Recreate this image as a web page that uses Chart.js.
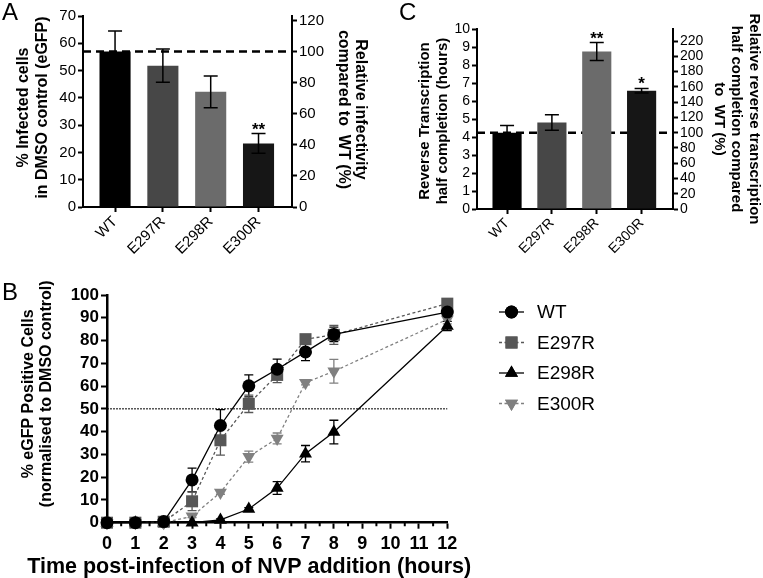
<!DOCTYPE html>
<html>
<head>
<meta charset="utf-8">
<script src="https://cdn.jsdelivr.net/npm/chart.js@4.4.1/dist/chart.umd.min.js"></script>
<style>
  body { margin: 0; background: #fff; width: 763px; height: 578px; position: relative; overflow: hidden; font-family: 'Liberation Sans', Arial, sans-serif; }
  .box { position: absolute; }
  .tag { position: absolute; font-size: 24px; line-height: 24px; color: #000; }
</style>
</head>
<body>
<div class="box" style="left:0;top:0;width:380px;height:280px"><canvas id="chartA"></canvas></div>
<div class="box" style="left:380px;top:0;width:383px;height:280px"><canvas id="chartC"></canvas></div>
<div class="box" style="left:0;top:280px;width:763px;height:298px"><canvas id="chartB"></canvas></div>
<div class="tag" style="left:2px;top:0px">A</div>
<div class="tag" style="left:399px;top:0px">C</div>
<div class="tag" style="left:2px;top:280px">B</div>
<script>
// panel A / C categories
var mutants = ['WT', 'E297R', 'E298R', 'E300R'];

// A: % infected cells (eGFP) in DMSO control
var infectedCells = [57, 51.8, 42.2, 23.3];
var infectedErr = [7.5, 6.1, 5.8, 3.6];
var infectedStars = ['', '', '', '**'];
var infectedTicks = [0, 10, 20, 30, 40, 50, 60, 70];
var infectedRelTicks = [0, 20, 40, 60, 80, 100, 120];

// C: reverse transcription half completion (hours)
var rtHalf = [4.24, 4.81, 8.75, 6.57];
var rtHalfErr = [0.4, 0.43, 0.5, 0.13];
var rtStars = ['', '', '**', '*'];
var rtTicks = [0, 1, 2, 3, 4, 5, 6, 7, 8, 9, 10];
var rtRelTicks = [0, 20, 40, 60, 80, 100, 120, 140, 160, 180, 200, 220];

// B: time course
var timeHours = [0, 1, 2, 3, 4, 5, 6, 7, 8, 12];
var wtPos = [0, 0, 0.5, 18.8, 42.7, 60.1, 67.4, 75, 82.7, 92.5];
var wtErr = [0, 0, 0, 5.2, 7, 4.8, 4.4, 3.8, 3.2, 2.2];
var e297Pos = [0, 0, 0.4, 9.4, 36.2, 52.2, 64.9, 80.6, 82.5, 96.2];
var e297Err = [0, 0, 0, 4.1, 6.5, 3.8, 3.4, 1, 4.2, 1.2];
var e298Pos = [0, 0, 0, 0, 1.2, 6, 15.2, 30.3, 39.8, 86.4];
var e298Err = [0, 0, 0, 0, 0.5, 0.6, 2.8, 3.6, 5.2, 2];
var e300Pos = [0, 0, 0, 2.8, 13.3, 29, 37, 61.5, 66.5, 89.3];
var e300Err = [0, 0, 0, 0.6, 0.8, 2.4, 2.4, 1, 5.2, 2];
var timeTicks = [0, 1, 2, 3, 4, 5, 6, 7, 8, 9, 10, 11, 12];
var posTicks = [0, 10, 20, 30, 40, 50, 60, 70, 80, 90, 100];

var barColors = ['#000000', '#474747', '#6b6b6b', '#161616'];
var FONT = "'Liberation Sans', Arial, sans-serif";

Chart.defaults.font.family = FONT;
Chart.defaults.color = '#000';

function fixTicks(list) {
  return function(scale) { scale.ticks = list.map(function(v) { return { value: v }; }); };
}

// error bars drawn from each dataset's "errors" array
function errorBars(capWidth, lineWidth, under) {
  function draw(chart) {
    var ctx = chart.ctx;
    chart.data.datasets.forEach(function(ds, i) {
      if (!ds.errors) return;
      var meta = chart.getDatasetMeta(i);
      var ys = chart.scales[meta.yAxisID];
      ctx.save();
      ctx.strokeStyle = ds.errorColor || '#000';
      ctx.lineWidth = lineWidth;
      meta.data.forEach(function(el, j) {
        var e = ds.errors[j];
        if (!e) return;
        var v = ds.data[j].y;
        var hi = ys.getPixelForValue(v + e), lo = ys.getPixelForValue(v - e);
        var w = capWidth / 2;
        ctx.beginPath();
        ctx.moveTo(el.x, hi); ctx.lineTo(el.x, lo);
        ctx.moveTo(el.x - w, hi); ctx.lineTo(el.x + w, hi);
        ctx.moveTo(el.x - w, lo); ctx.lineTo(el.x + w, lo);
        ctx.stroke();
      });
      ctx.restore();
    });
  }
  return {
    id: 'errorBars',
    beforeDatasetsDraw: function(chart) { if (under) draw(chart); },
    afterDatasetsDraw: function(chart) { if (!under) draw(chart); }
  };
}

function refLine(axisId, value, width, dash) {
  return {
    id: 'refLine',
    beforeDatasetsDraw: function(chart) {
      var a = chart.chartArea, ctx = chart.ctx;
      var y = chart.scales[axisId].getPixelForValue(value);
      ctx.save();
      ctx.strokeStyle = '#000';
      ctx.lineWidth = width;
      ctx.setLineDash(dash);
      ctx.beginPath();
      ctx.moveTo(a.left, y); ctx.lineTo(a.right, y);
      ctx.stroke();
      ctx.restore();
    }
  };
}

function stars(labels, errs) {
  return {
    id: 'stars',
    afterDatasetsDraw: function(chart) {
      var ctx = chart.ctx, meta = chart.getDatasetMeta(0), ys = chart.scales.y;
      ctx.save();
      ctx.fillStyle = '#000';
      ctx.font = 'bold 17px ' + FONT;
      ctx.textAlign = 'center';
      ctx.textBaseline = 'alphabetic';
      meta.data.forEach(function(el, j) {
        if (!labels[j]) return;
        var v = chart.data.datasets[0].data[j].y + errs[j];
        ctx.fillText(labels[j], el.x, ys.getPixelForValue(v) + 1);
      });
      ctx.restore();
    }
  };
}

// axis titles drawn by hand so long lines are not squeezed to the axis length
function axisTitles(specs) {
  return {
    id: 'axisTitles',
    afterDraw: function(chart) {
      var ctx = chart.ctx, a = chart.chartArea;
      specs.forEach(function(s) {
        var sc = chart.scales[s.axis];
        ctx.save();
        ctx.fillStyle = '#000';
        ctx.font = 'bold ' + s.size + 'px ' + FONT;
        ctx.textAlign = 'center';
        ctx.textBaseline = 'middle';
        s.lines.forEach(function(line, k) {
          ctx.save();
          if (s.side === 'left') {
            ctx.translate(sc.left + s.offset + k * s.lh, (a.top + a.bottom) / 2 + s.shift);
            ctx.rotate(-Math.PI / 2);
          } else if (s.side === 'right') {
            ctx.translate(sc.right - s.offset - k * s.lh, (a.top + a.bottom) / 2 + s.shift);
            ctx.rotate(Math.PI / 2);
          } else {
            ctx.translate((a.left + a.right) / 2 + s.shift, sc.bottom - s.offset - (s.lines.length - 1 - k) * s.lh);
          }
          ctx.fillText(line, 0, 0);
          ctx.restore();
        });
        ctx.restore();
      });
    }
  };
}

function barChart(id, values, errs, starLabels, leftTicks, rightTicks, dims) {
  var points = values.map(function(v, i) { return { x: i, y: v }; });
  var leftMax = leftTicks[leftTicks.length - 1];
  var rightMax = leftMax / values[0] * 100;
  return new Chart(document.getElementById(id), {
    type: 'bar',
    data: {
      datasets: [{
        data: points,
        errors: errs,
        backgroundColor: barColors,
        borderColor: barColors,
        borderWidth: 0,
        barPercentage: 0.65,
        categoryPercentage: 1,
        yAxisID: 'y'
      }]
    },
    options: {
      responsive: true,
      maintainAspectRatio: false,
      animation: false,
      layout: { padding: { top: dims.top, left: 0, right: 0, bottom: 0 } },
      plugins: { legend: { display: false }, tooltip: { enabled: false } },
      scales: {
        x: {
          type: 'linear', min: -0.67, max: 3.7, offset: false,
          afterBuildTicks: fixTicks([0, 1, 2, 3]),
          afterFit: function(s) { s.height = dims.xh; },
          ticks: { callback: function(v) { return mutants[v]; }, autoSkip: false, minRotation: 45, maxRotation: 45, font: { size: dims.tick }, color: '#000', padding: 1 },
          grid: { drawOnChartArea: false, offset: false, tickLength: 5, tickColor: '#000', tickWidth: 2 },
          border: { color: '#000', width: 2 }
        },
        y: {
          position: 'left', min: 0, max: leftMax,
          afterBuildTicks: fixTicks(leftTicks),
          afterFit: function(s) { s.width = dims.lw; },
          ticks: { autoSkip: false, font: { size: dims.tick }, color: '#000', padding: 2 },
          grid: { drawOnChartArea: false, tickLength: 5, tickColor: '#000', tickWidth: 2 },
          border: { color: '#000', width: 2 }
        },
        y2: {
          position: 'right', min: 0, max: rightMax,
          afterBuildTicks: fixTicks(rightTicks),
          afterFit: function(s) { s.width = dims.rw; },
          ticks: { autoSkip: false, font: { size: dims.tick }, color: '#000', padding: 2 },
          grid: { drawOnChartArea: false, tickLength: 5, tickColor: '#000', tickWidth: 2 },
          border: { color: '#000', width: 2 }
        }
      }
    },
    plugins: [
      refLine('y', values[0], 2.5, [8, 5]),
      errorBars(14, 1.5, false),
      stars(starLabels, errs),
      axisTitles([
        { axis: 'y', side: 'left', lines: dims.leftTitle, size: dims.tfont, offset: dims.loff, lh: dims.llh, shift: dims.lshift },
        { axis: 'y2', side: 'right', lines: dims.rightTitle, size: dims.tfont, offset: dims.roff, lh: dims.rlh, shift: dims.rshift }
      ])
    ]
  });
}

barChart('chartA', infectedCells, infectedErr, infectedStars, infectedTicks, infectedRelTicks, {
  top: 16, xh: 73, lw: 83, rw: 88, tick: 15, tfont: 16,
  loff: 24, llh: 19, lshift: -4, roff: 20, rlh: 17, rshift: -2,
  leftTitle: ['% Infected cells', 'in DMSO control (eGFP)'],
  rightTitle: ['Relative infectivity', 'compared to  WT (%)']
});

barChart('chartC', rtHalf, rtHalfErr, rtStars, rtTicks, rtRelTicks, {
  top: 29, xh: 71, lw: 97, rw: 90, tick: 14, tfont: 15,
  loff: 45, llh: 18, lshift: 2, roff: 9, rlh: 17.5, rshift: 0,
  leftTitle: ['Reverse Transcription', 'half completion (hours)'],
  rightTitle: ['Relative reverse transcription', 'half completion compared', 'to  WT (%)']
});

// B ------------------------------------------------------------
function series(ys) { return timeHours.map(function(t, i) { return { x: t, y: ys[i] }; }); }

function drawMarker(ctx, style, x, y, r, rot) {
  if (Chart.helpers && Chart.helpers.drawPoint) {
    Chart.helpers.drawPoint(ctx, { pointStyle: style, radius: r, rotation: rot || 0, borderWidth: 0 }, x, y);
    ctx.fill();
  }
}

var legendB = {
  id: 'legendB',
  afterDraw: function(chart) {
    var ctx = chart.ctx;
    var rowY = [32, 62.5, 93, 123.5];
    chart.data.datasets.forEach(function(ds, i) {
      var y = rowY[i];
      ctx.save();
      ctx.strokeStyle = ds.borderColor;
      ctx.lineWidth = 1.3;
      ctx.setLineDash(ds.borderDash || []);
      ctx.beginPath();
      ctx.moveTo(499, y); ctx.lineTo(524, y);
      ctx.stroke();
      ctx.setLineDash([]);
      ctx.fillStyle = ds.pointBackgroundColor;
      drawMarker(ctx, ds.pointStyle, 511.5, y, ds.pointRadius, ds.pointRotation);
      ctx.fillStyle = '#000';
      ctx.font = '19px ' + FONT;
      ctx.textBaseline = 'middle';
      ctx.fillText(ds.label, 537, y + 1);
      ctx.restore();
    });
  }
};

var minorTicksB = {
  id: 'minorTicksB',
  afterDraw: function(chart) {
    var xs = chart.scales.x, ctx = chart.ctx, b = chart.chartArea.bottom;
    ctx.save();
    ctx.strokeStyle = '#000';
    ctx.lineWidth = 2;
    ctx.beginPath();
    for (var t = 0.5; t < 12; t += 1) {
      var x = xs.getPixelForValue(t);
      ctx.moveTo(x, b); ctx.lineTo(x, b + 3.5);
    }
    ctx.stroke();
    ctx.restore();
  }
};

function lineSet(label, ys, errs, color, dash, style, radius, rot) {
  return {
    label: label, data: series(ys), errors: errs, errorColor: color,
    borderColor: color, backgroundColor: color, borderWidth: 1.3, borderDash: dash,
    pointStyle: style, pointRadius: radius, pointRotation: rot, pointBackgroundColor: color,
    pointBorderWidth: 0, pointBorderColor: color, tension: 0, clip: false
  };
}

new Chart(document.getElementById('chartB'), {
  type: 'line',
  data: {
    datasets: [
      lineSet('WT', wtPos, wtErr, '#000000', [], 'circle', 6.5, 0),
      lineSet('E297R', e297Pos, e297Err, '#575757', [3, 2.5], 'rect', 8.5, 0),
      lineSet('E298R', e298Pos, e298Err, '#000000', [], 'triangle', 7.5, 0),
      lineSet('E300R', e300Pos, e300Err, '#808080', [3, 2.5], 'triangle', 7.5, 180)
    ]
  },
  options: {
    responsive: true,
    maintainAspectRatio: false,
    animation: false,
    layout: { padding: { top: 15, left: 0, right: 315.7, bottom: 0 } },
    plugins: { legend: { display: false }, tooltip: { enabled: false } },
    scales: {
      x: {
        type: 'linear', min: 0, max: 12,
        afterBuildTicks: fixTicks(timeTicks),
        afterFit: function(s) { s.height = 55.3; },
        ticks: { autoSkip: false, font: { size: 18, weight: 'bold' }, color: '#000', padding: 5 },
        grid: { drawOnChartArea: false, tickLength: 6, tickColor: '#000', tickWidth: 2 },
        border: { color: '#000', width: 2.5 }
      },
      y: {
        min: 0, max: 100,
        afterBuildTicks: fixTicks(posTicks),
        afterFit: function(s) { s.width = 107; },
        ticks: { autoSkip: false, font: { size: 17, weight: 'bold' }, color: '#000', padding: 2 },
        grid: { drawOnChartArea: false, tickLength: 6, tickColor: '#000', tickWidth: 2 },
        border: { color: '#000', width: 2.5 }
      }
    }
  },
  plugins: [
    refLine('y', 50, 1, [2, 1]),
    errorBars(9, 1.3, true),
    minorTicksB,
    legendB,
    axisTitles([
      { axis: 'y', side: 'left', lines: ['% eGFP Positive Cells', '(normalised to DMSO control)'], size: 16, offset: 29, lh: 18, shift: -15 },
      { axis: 'x', side: 'bottom', lines: ['Time post-infection of NVP addition (hours)'], size: 21.5, offset: 11, lh: 24, shift: -28 }
    ])
  ]
});
</script>
</body>
</html>
